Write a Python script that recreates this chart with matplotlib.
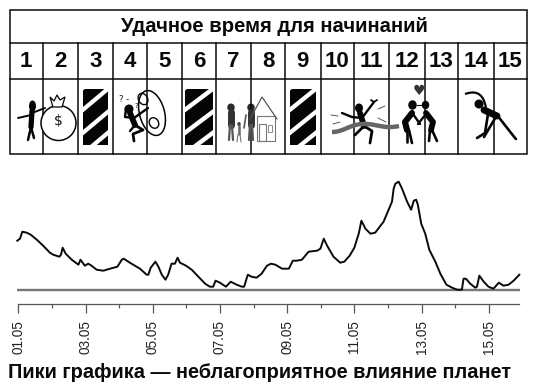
import matplotlib
matplotlib.use("Agg")
import matplotlib.pyplot as plt
from matplotlib.patches import Rectangle, Ellipse, Polygon, PathPatch
from matplotlib.path import Path

title = "Удачное время для начинаний"
footer = "Пики графика — неблагоприятное влияние планет"
day_numbers = [str(i) for i in range(1, 16)]
bad_days = [3, 6, 9]
tick_days = [1, 3, 5, 7, 9, 11, 13, 15]
tick_labels = ["01.05", "03.05", "05.05", "07.05", "09.05", "11.05", "13.05", "15.05"]
minor_days = [2, 4, 6, 8, 10, 12, 14]
curve_days = [0.97,1.05,1.12,1.25,1.37,1.55,1.74,1.94,2.04,2.22,2.27,2.32,2.41,2.59,2.79,2.85,2.98,3.08,3.18,3.33,
3.53,3.73,3.95,4.08,4.14,4.32,4.62,4.82,4.87,4.94,5.08,5.17,5.27,5.38,5.46,5.56,5.66,5.74,5.81,5.99,
6.16,6.36,6.56,6.70,6.80,6.87,7.00,7.18,7.32,7.50,7.65,7.72,7.83,7.94,8.09,8.24,8.40,8.52,8.65,8.85,
9.05,9.17,9.29,9.44,9.64,9.89,9.99,10.09,10.19,10.38,10.58,10.70,10.86,11.00,11.13,11.21,11.33,11.48,11.62,11.87,
12.12,12.17,12.22,12.32,12.42,12.57,12.69,12.77,12.84,12.89,12.99,13.11,13.23,13.41,13.56,13.74,13.91,14.06,14.20,14.25,
14.32,14.45,14.60,14.65,14.72,14.85,14.99,15.14,15.30,15.44,15.59,15.74,15.91]
curve_values = [49,51,58,57,55,50,44,37,35,33,35,42,36,30,25,30,24,26,24,20,
19,21,23,30,31,27,21,15,15,22,28,23,15,10,15,26,26,32,27,24,
20,13,6,3,3,9,7,3,8,5,3,3,15,13,12,16,24,26,25,21,
21,29,29,30,38,39,41,51,44,33,27,28,34,42,56,69,61,56,57,68,
88,101,106,108,101,88,80,89,90,85,66,56,40,28,16,5,2,0,0,11,
11,6,2,3,14,8,3,1,7,4,5,9,15]
col_edges = [9.5,43,78,112.5,147,182,216,251,285,320.5,354,389,424.5,458,493.5,527]

W, H = 537, 391
fig = plt.figure(figsize=(W/100, H/100), dpi=100, facecolor="white")

x_day1, x_end, y_bot, y_top = 18.3, 519.0, 304.3, 175.0
ax = fig.add_axes([x_day1/W, 1-y_bot/H, (x_end-x_day1)/W, (y_bot-y_top)/H])
ax.set_xlim(1, 15.9)
ax.set_ylim(-14.6, 114.7)
ax.patch.set_alpha(0)
for s in ("left", "right", "top"):
    ax.spines[s].set_visible(False)
ax.spines["bottom"].set_color("#555555")
ax.spines["bottom"].set_linewidth(0.9)
ax.set_yticks([])
ax.set_xticks(tick_days)
ax.set_xticks(minor_days, minor=True)
ax.set_xticklabels(tick_labels, rotation=90, family="Liberation Sans", fontsize=9.8, color="#222222")
ax.tick_params(axis="x", which="major", length=6.2, width=0.9, color="#555555", pad=5)
ax.tick_params(axis="x", which="minor", length=3, width=0.9, color="#555555")
ax.plot([0.95, 15.93], [0, 0], color="#777777", lw=1.7, clip_on=False, solid_capstyle="butt")
ax.plot(curve_days, curve_values, color="#0a0a0a", lw=1.4, clip_on=False, solid_joinstyle="round")

ov = fig.add_axes([0, 0, 1, 1])
ov.set_xlim(0, W)
ov.set_ylim(H, 0)
ov.axis("off")
ov.patch.set_alpha(0)
LW = 1.1
T0, T1, T2, T3 = 9.5, 43, 79, 154
ov.add_patch(Rectangle((9.5, T0), 517.5, T3-T0, fc="none", ec="#0a0a0a", lw=LW))
ov.plot([9.5, 527], [T1, T1], color="#0a0a0a", lw=LW)
ov.plot([9.5, 527], [T2, T2], color="#0a0a0a", lw=LW)
for x in col_edges[1:-1]:
    ov.plot([x, x], [T1, T3], color="#0a0a0a", lw=LW)

FONT = "Liberation Sans"
fig.canvas.draw()
rend = fig.canvas.get_renderer()

def fit_text(x, y, s, width, size):
    t = ov.text(x, y, s, ha="center", va="center", family=FONT, weight="bold", fontsize=size, color="#0a0a0a")
    t.set_fontsize(size*width/t.get_window_extent(rend).width)
    return t

fit_text(274, 26.5, title, 308, 16)
fit_text(260, 373, footer, 506, 16)
for i, s in enumerate(day_numbers):
    ov.text((col_edges[i]+col_edges[i+1])/2, 61.5, s, ha="center", va="center", family=FONT,
            weight="bold", fontsize=16, color="#0a0a0a")

bad_spans = {3: (83, 108), 6: (185, 213), 9: (290, 316)}
for d in bad_days:
    x0, x1 = bad_spans[d]
    box = Rectangle((x0, 89), x1-x0, 56, fc="#050505", ec="none")
    ov.add_patch(box)
    for yl in (85, 107, 130, 151):
        p = Polygon([(x0, yl), (x1, yl-21), (x1, yl-15.5), (x0, yl+5.5)], fc="white", ec="none")
        ov.add_patch(p)
        p.set_clip_path(box)

def line(pts, lw=2.0, c="#050505"):
    ov.plot([p[0] for p in pts], [p[1] for p in pts], color=c, lw=lw, solid_capstyle="round", solid_joinstyle="round")

def head(x, y, w=7, h=8, c="#050505"):
    ov.add_patch(Ellipse((x, y), w, h, fc=c, ec="none"))

def curve(pts, lw=1.0, c="#050505"):
    codes = [Path.MOVETO] + [Path.CURVE4]*(len(pts)-1)
    ov.add_patch(PathPatch(Path(pts, codes), fc="none", ec=c, lw=lw, zorder=3))

head(32.5, 106, 7, 11)
line([(32, 111), (31, 127)], 3.8)
line([(31, 127), (28, 140)], 1.8)
line([(31, 127), (34, 138)], 1.8)
line([(31, 115), (18, 118)], 1.4)
line([(32, 113), (45, 108)], 1.4)
ov.add_patch(Ellipse((58.5, 123), 35, 35, fc="white", ec="#050505", lw=1.1, zorder=3))
ov.add_patch(Polygon([(50, 97), (54, 101), (57, 95), (60, 100), (65, 97), (62, 107), (53, 107)], fc="white", ec="#050505", lw=0.9, zorder=4))
ov.text(58, 121, "$", ha="center", va="center", fontsize=10, family="DejaVu Sans", color="#111111", zorder=5)

head(129, 109, 9, 9)
line([(130, 113), (135, 125)], 4.2)
line([(126, 108), (125, 117), (134, 118), (148, 108)], 1.7)
line([(135, 125), (143, 130), (133, 134), (134, 141)], 2.0)
line([(135, 125), (130, 131)], 1.7)
ov.add_patch(Ellipse((152, 113), 25, 46, angle=-15, fc="none", ec="#050505", lw=1.1))
ov.add_patch(Ellipse((143, 99), 9, 12, angle=-30, fc="none", ec="#050505", lw=1.0))
ov.add_patch(Ellipse((154, 123), 9, 11, angle=-30, fc="none", ec="#050505", lw=1.0))
ov.text(124, 99, "? -", ha="center", va="center", fontsize=6, family="DejaVu Sans", color="#111111")
ov.text(136, 106, "?", ha="center", va="center", fontsize=5, family="DejaVu Sans", color="#111111")

for hx in (231, 251):
    head(hx, 107.5, 7.5, 8, "#2a2a2a")
    line([(hx, 112), (hx, 125)], 5, "#333333")
    line([(hx-1, 125), (hx-2, 140)], 1.6, "#555555")
    line([(hx+1, 125), (hx+2, 140)], 1.6, "#555555")
line([(246, 115), (244, 128)], 1.2, "#555555")
head(239, 124, 3.5, 4, "#444444")
line([(239, 126), (239, 134)], 1.8, "#666666")
line([(238, 134), (237, 142)], 0.8, "#777777")
line([(240, 134), (241, 142)], 0.8, "#777777")
line([(250, 119), (262, 97), (277, 119)], 0.9, "#555555")
ov.add_patch(Rectangle((257, 116), 18, 25, fc="none", ec="#777777", lw=0.8))
ov.add_patch(Rectangle((259, 124), 7, 17, fc="none", ec="#777777", lw=0.8))
ov.add_patch(Rectangle((268, 125), 4, 7, fc="none", ec="#888888", lw=0.7))

head(359, 108, 8, 9)
line([(342, 113), (352, 117), (362, 118), (374, 102)], 1.7)
line([(360, 113), (364, 126)], 4.2)
line([(364, 126), (355, 135)], 2.0)
line([(364, 126), (372, 131), (370, 143)], 2.0)
line([(374, 102), (371, 100)], 1.3)
line([(374, 102), (377, 100)], 1.3)
curve([(332, 132), (345, 132), (350, 123), (367, 124), (380, 125), (385, 129), (399, 126)], 3.2, "#666666")
for seg in ([(331, 115), (338, 116)], [(333, 124), (340, 122)], [(378, 109), (385, 106)], [(378, 118), (386, 122)]):
    line(seg, 0.7, "#555555")

ov.text(419, 91, "♥", ha="center", va="center", fontsize=10, family="DejaVu Sans", color="#333333")
head(412.5, 105, 8.5, 9.5)
head(425.5, 105, 7.5, 8.5)
line([(417, 105), (421, 105)], 0.8)
line([(412, 113), (405, 122), (407, 130)], 4.4)
line([(407, 130), (407, 142)], 1.9)
line([(409, 130), (412, 143)], 1.9)
line([(413, 114), (420, 124)], 1.7)
line([(426, 113), (433, 122), (431, 130)], 4.2)
line([(430, 130), (429, 141)], 1.9)
line([(432, 130), (437, 141)], 1.9)
line([(426, 114), (418, 124)], 1.7)

head(479, 104, 9, 9)
curve([(465, 94), (474, 91), (483, 91), (486, 108)], 1.6)
line([(484, 110), (497, 116)], 5.0)
line([(497, 115), (515, 138), (516, 139)], 1.9)
line([(488, 114), (485, 133), (477, 138)], 1.9)
line([(497, 115), (484, 137)], 1.9)

fig.savefig("out.png", dpi=100, facecolor="white")
